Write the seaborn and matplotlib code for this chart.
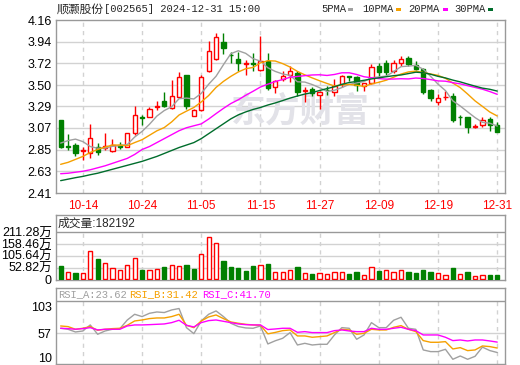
import numpy as np
import pandas as pd
import matplotlib
matplotlib.use("Agg")
import matplotlib.pyplot as plt
import matplotlib.transforms as mtransforms
import seaborn as sns
from matplotlib.patches import Rectangle

# ---------------- data ----------------
dates = (["10-%02d" % d for d in [9, 10, 11, 14, 15, 16, 17, 18, 21, 22, 23, 24, 25, 28, 29, 30, 31]] +
         ["11-%02d" % d for d in [1, 4, 5, 6, 7, 8, 11, 12, 13, 14, 15, 18, 19, 20, 21, 22, 25, 26, 27, 28, 29]] +
         ["12-%02d" % d for d in [2, 3, 4, 5, 6, 9, 10, 11, 12, 13, 16, 17, 18, 19, 20, 23, 24, 25, 26, 27, 30, 31]])

opens = [3.15, 2.89, 2.90, 2.83, 2.81, 2.88, 2.87, 2.83, 2.895, 2.88,
         3.015, 3.175, 3.18, 3.285, 3.34, 3.265, 3.385, 3.60, 3.19, 3.245,
         3.645, 3.77, 3.94, 3.81, 3.765, 3.71, 3.72, 3.655, 3.75, 3.48,
         3.568, 3.60, 3.625, 3.445, 3.46, 3.40, 3.455, 3.435, 3.51, 3.59,
         3.58, 3.49, 3.52, 3.695, 3.73, 3.64, 3.73, 3.78, 3.705, 3.665,
         3.45, 3.335, 3.38, 3.39, 3.18, 3.175, 3.08, 3.10, 3.16, 3.10]
highs = [3.15, 3.01, 2.915, 2.88, 3.11, 2.915, 3.02, 2.955, 2.93, 3.02,
         3.29, 3.20, 3.28, 3.345, 3.43, 3.55, 3.63, 3.60, 3.26, 3.60,
         3.95, 4.025, 4.03, 3.84, 3.84, 3.76, 3.825, 4.0, 3.825, 3.555,
         3.64, 3.695, 3.64, 3.48, 3.485, 3.44, 3.49, 3.56, 3.60, 3.595,
         3.595, 3.525, 3.715, 3.72, 3.76, 3.755, 3.795, 3.795, 3.745, 3.67,
         3.46, 3.41, 3.445, 3.42, 3.20, 3.18, 3.11, 3.18, 3.18, 3.125]
lows = [2.87, 2.85, 2.78, 2.74, 2.76, 2.79, 2.85, 2.82, 2.855, 2.875,
        3.0, 3.10, 3.175, 3.245, 3.285, 3.26, 3.37, 3.255, 3.185, 3.235,
        3.63, 3.76, 3.82, 3.72, 3.64, 3.605, 3.64, 3.645, 3.45, 3.42,
        3.54, 3.53, 3.39, 3.335, 3.39, 3.26, 3.40, 3.395, 3.48, 3.54,
        3.445, 3.445, 3.515, 3.57, 3.605, 3.62, 3.695, 3.695, 3.655, 3.41,
        3.345, 3.30, 3.35, 3.125, 3.10, 3.02, 3.065, 3.075, 3.04, 3.03]
closes = [2.88, 2.88, 2.81, 2.84, 2.965, 2.82, 2.885, 2.90, 2.88, 3.015,
          3.20, 3.17, 3.26, 3.295, 3.295, 3.39, 3.58, 3.29, 3.25, 3.58,
          3.85, 3.985, 3.875, 3.805, 3.73, 3.72, 3.715, 3.75, 3.47, 3.545,
          3.59, 3.64, 3.43, 3.455, 3.42, 3.43, 3.45, 3.49, 3.59, 3.585,
          3.505, 3.52, 3.68, 3.63, 3.63, 3.73, 3.77, 3.71, 3.665, 3.435,
          3.37, 3.375, 3.385, 3.145, 3.175, 3.075, 3.085, 3.145, 3.10, 3.03]

ma5 = [2.915, 2.94, 2.955, 2.93, 2.88, 2.863, 2.864, 2.882, 2.89, 2.90,
       2.976, 3.033, 3.105, 3.188, 3.244, 3.282, 3.364, 3.37, 3.361, 3.418,
       3.51, 3.591, 3.708, 3.819, 3.849, 3.823, 3.769, 3.744, 3.677, 3.64,
       3.614, 3.599, 3.535, 3.532, 3.507, 3.475, 3.437, 3.449, 3.476, 3.509,
       3.524, 3.538, 3.576, 3.584, 3.593, 3.638, 3.688, 3.694, 3.701, 3.662,
       3.59, 3.511, 3.446, 3.342, 3.29, 3.231, 3.173, 3.125, 3.116, 3.087]
ma10 = [2.70, 2.72, 2.75, 2.78, 2.82, 2.85, 2.875, 2.895, 2.895, 2.888,
        2.92, 2.949, 2.994, 3.039, 3.072, 3.129, 3.199, 3.238, 3.275, 3.331,
        3.396, 3.478, 3.539, 3.59, 3.634, 3.667, 3.68, 3.726, 3.748, 3.745,
        3.719, 3.684, 3.64, 3.605, 3.574, 3.545, 3.518, 3.492, 3.504, 3.508,
        3.50, 3.488, 3.513, 3.53, 3.551, 3.581, 3.613, 3.635, 3.643, 3.628,
        3.614, 3.60, 3.57, 3.522, 3.476, 3.411, 3.342, 3.286, 3.229, 3.189]
ma20 = [2.605, 2.61, 2.62, 2.63, 2.645, 2.665, 2.685, 2.71, 2.735, 2.76,
        2.80, 2.85, 2.88, 2.92, 2.96, 3.00, 3.04, 3.07, 3.09, 3.109,
        3.158, 3.213, 3.266, 3.315, 3.353, 3.398, 3.439, 3.482, 3.511, 3.538,
        3.557, 3.581, 3.589, 3.597, 3.604, 3.606, 3.599, 3.609, 3.626, 3.626,
        3.609, 3.586, 3.576, 3.567, 3.562, 3.563, 3.566, 3.564, 3.573, 3.568,
        3.557, 3.544, 3.541, 3.526, 3.514, 3.496, 3.478, 3.46, 3.436, 3.408]
ma30 = [2.535, 2.55, 2.565, 2.578, 2.595, 2.61, 2.63, 2.65, 2.67, 2.69,
        2.71, 2.73, 2.755, 2.78, 2.81, 2.84, 2.87, 2.895, 2.92, 2.96,
        3.01, 3.06, 3.11, 3.16, 3.20, 3.23, 3.255, 3.275, 3.30, 3.321,
        3.345, 3.37, 3.391, 3.411, 3.426, 3.447, 3.466, 3.485, 3.509, 3.528,
        3.538, 3.55, 3.564, 3.575, 3.586, 3.597, 3.604, 3.618, 3.632, 3.627,
        3.611, 3.59, 3.574, 3.552, 3.534, 3.512, 3.491, 3.471, 3.459, 3.441]

volume_wan = [59.8, 33, 30, 28, 127, 91, 73, 49, 42, 64,
              96, 42, 42, 46, 55, 64, 60, 64, 46, 114,
              188.5, 163, 82, 55, 51, 37, 60, 64, 69, 33,
              33, 42, 55, 28, 24, 28, 24, 33, 33, 24,
              33, 18, 55, 37, 42, 33, 42, 33, 28, 42,
              33, 28, 18, 51, 24, 33, 13, 18, 19, 18.2]
volume_up = [0, 1, 0, 1, 1, 0, 1, 1, 1, 1,
             1, 0, 1, 1, 0, 1, 1, 0, 0, 1,
             1, 1, 0, 0, 0, 0, 0, 1, 0, 1,
             1, 1, 0, 1, 0, 1, 1, 1, 1, 0,
             0, 1, 1, 0, 1, 1, 1, 0, 0, 0,
             0, 1, 1, 0, 1, 0, 1, 1, 0, 0]

rsi_a = [65.7, 63.9, 59.3, 61, 71.5, 55.3, 61, 64, 65, 80,
         90, 86, 91.7, 94, 93, 97.5, 100, 66.8, 56.4, 78.4,
         90, 95.8, 86, 74.4, 68.7, 66.3, 65.7, 69.7, 38.5, 44,
         48.3, 58.2, 36.7, 39.6, 36.7, 37.9, 37.9, 54.1, 66.8, 65.7,
         46.6, 54.1, 75.5, 66.8, 66.8, 79.6, 84.8, 65.7, 63.9, 28.1,
         25.2, 25.2, 29.2, 11.9, 17.6, 11.9, 17, 33, 27, 23.62]
rsi_b = [69.7, 68.6, 64, 65.7, 68.6, 62.2, 64, 65.1, 65.7, 70.9,
         78.4, 80.1, 82.5, 83.6, 83.6, 86, 90, 70.9, 66.8, 78.4,
         85.4, 88.8, 82.5, 76.7, 74.4, 72.6, 71.5, 70.9, 56, 58.5,
         61.6, 62.8, 52.4, 52.4, 50.1, 51.2, 52.4, 58.2, 63.9, 62.8,
         55.3, 57, 63.9, 62.8, 62.8, 67.4, 70.3, 63.9, 59.9, 44.3,
         41.4, 41.4, 42.5, 29.8, 32.1, 26.9, 28.1, 35, 33.9, 31.42]
rsi_c = [65.7, 65.1, 64, 65.1, 66.8, 62.8, 64, 64, 64, 69.7,
         71.5, 71.5, 72, 72.6, 73.2, 75.5, 79.6, 70.9, 68, 75.5,
         79, 80.1, 77.8, 75.5, 73.2, 72, 71.5, 71.5, 63.5, 64.5,
         65.7, 65.7, 58.7, 59.9, 58.2, 58.2, 58.2, 61.6, 62.8, 61,
         59.9, 59.9, 65.7, 63.9, 63.9, 65.7, 67.4, 63.9, 61.6, 54.1,
         54.1, 54.1, 50.1, 44.3, 45.4, 43.7, 45.4, 45.4, 43.7, 41.7]

price_ticks = [2.41, 2.63, 2.85, 3.07, 3.29, 3.50, 3.72, 3.94, 4.16]
price_tick_labels = ["2.41", "2.63", "2.85", "3.07", "3.29", "3.50", "3.72", "3.94", "4.16"]
date_tick_labels = ["10-14", "10-24", "11-05", "11-15", "11-27", "12-09", "12-19", "12-31"]
vol_ticks = [0, 52.82, 105.64, 158.46, 211.28]
vol_tick_labels = ["0", "52.82万", "105.64万", "158.46万", "211.28万"]
rsi_ticks = [10, 57, 103]
rsi_tick_labels = ["10", "57", "103"]

title_name = "顺灏股份"
title_rest = "[002565] 2024-12-31 15:00"
ma_names = ["5PMA", "10PMA", "20PMA", "30PMA"]
vol_title = "成交量:182192"
rsi_names = ["RSI_A", "RSI_B", "RSI_C"]
watermark = "东方财富"

# ---------------- style ----------------
RED = "#ff0000"
GREEN = "#008000"
MA_COLORS = ["#a0a0a0", "#f5a000", "#ff00ff", "#006d2c"]
RSI_COLORS = ["#a0a0a0", "#f5a000", "#ff00ff"]
BORDER = "#999999"
GRID = "#d2d2d2"

sns.set_theme(style="white")
plt.rcParams["font.family"] = ["Liberation Sans", "Noto Sans CJK SC"]
MONO = ["Liberation Mono", "Noto Sans CJK SC"]

W, H = 520, 365
fig = plt.figure(figsize=(W / 100, H / 100), dpi=100)
fig.patch.set_facecolor("white")


def rect(x0, y0, x1, y1):
    return [x0 / W, 1 - y1 / H, (x1 - x0) / W, (y1 - y0) / H]


ax = fig.add_axes(rect(56, 20, 505, 193))
axv = fig.add_axes(rect(56, 215, 505, 280))
axr = fig.add_axes(rect(56, 288, 505, 364))

n = len(closes)
x = np.arange(n)
XLIM = (-0.63, n + 0.05)
date_pos = [dates.index(d) for d in date_tick_labels]

for a in (ax, axv, axr):
    a.set_xlim(*XLIM)
    a.set_facecolor("white")
    for s in a.spines.values():
        s.set_color(BORDER)
        s.set_linewidth(1.0)
    a.tick_params(length=0, labelsize=9, colors="#000000", pad=3)

# ---------------- main price panel ----------------
ax.set_ylim(price_ticks[0], price_ticks[-1])
for t in price_ticks[1:-1]:
    ax.axhline(t, color=GRID, lw=1, zorder=0)
for p in date_pos:
    ax.axvline(p, color=GRID, lw=1, ls=(0, (3, 3)), zorder=0)

ax.text((300 - 56) / 449, (193 - 111) / 173, watermark, fontsize=25, fontweight="bold",
        color="#e2e2e8", ha="center", va="center", family=["Noto Sans CJK SC"], zorder=1,
        transform=ax.transAxes)

bw = 0.58
for i in range(n):
    up = closes[i] >= opens[i]
    col = RED if up else GREEN
    ax.vlines(i, lows[i], highs[i], color=col, lw=1, zorder=3)
    lo = min(opens[i], closes[i])
    hgt = max(abs(closes[i] - opens[i]), 0.004)
    ax.add_patch(Rectangle((i - bw / 2, lo), bw, hgt, facecolor="white" if up else col,
                           edgecolor=col, lw=1, zorder=4))

for vals, c in zip([ma5, ma10, ma20, ma30], MA_COLORS):
    sns.lineplot(x=x, y=vals, ax=ax, color=c, linewidth=1.0, legend=False, zorder=5)

ax.set_yticks(price_ticks)
ax.set_yticklabels(price_tick_labels)
ax.set_xticks(date_pos)
ax.set_xticklabels(date_tick_labels, color=RED, fontsize=8.5)
ax.tick_params(axis="x", pad=5)
ax.set_xlabel("")
ax.set_ylabel("")

# ---------------- volume panel ----------------
VTOP = vol_ticks[-1]
axv.set_ylim(-3.1, 289)
for t in vol_ticks[1:-1]:
    axv.axhline(t, color=GRID, lw=1, zorder=0)
axv.axhline(VTOP, color=BORDER, lw=1, zorder=1)
axv.vlines(date_pos, 0, VTOP, color=GRID, lw=1, linestyles=(0, (3, 3)), zorder=0)
vcols = [RED if u else GREEN for u in volume_up]
axv.bar(x, volume_wan, width=bw, color=["white" if u else GREEN for u in volume_up],
        edgecolor=vcols, linewidth=1, zorder=3)
axv.set_yticks(vol_ticks)
axv.set_yticklabels(vol_tick_labels)
axv.set_xticks([])

# ---------------- RSI panel ----------------
RTOP = 113
axr.set_ylim(3.7, 135.6)
axr.axhline(57, color=GRID, lw=1, zorder=0)
axr.axhline(RTOP, color=BORDER, lw=1, zorder=1)
axr.vlines(date_pos, 3.7, RTOP, color=GRID, lw=1, linestyles=(0, (3, 3)), zorder=0)
for vals, c in zip([rsi_a, rsi_b, rsi_c], RSI_COLORS):
    sns.lineplot(x=x, y=vals, ax=axr, color=c, linewidth=1.0, legend=False, zorder=4)
axr.set_yticks(rsi_ticks)
axr.set_yticklabels(rsi_tick_labels)
axr.set_xticks([])
axr.set_xlabel("")
axr.set_ylabel("")
shift_up = mtransforms.ScaledTranslation(0, 2.5 / 100, fig.dpi_scale_trans)
for lbl in axr.get_yticklabels():
    if lbl.get_text() == rsi_tick_labels[0]:
        lbl.set_transform(lbl.get_transform() + shift_up)

# ---------------- header texts ----------------
def ftext(px, py, s, **kw):
    return fig.text(px / W, 1 - py / H, s, va="center", ha="left", **kw)


ftext(57, 9, title_name, fontsize=8.5, family=["Noto Sans CJK SC"])
ftext(104, 9, title_rest, fontsize=7.6, family=MONO)

leg_x = [321, 362, 408, 454]
sq_x = [348, 396, 443, 488]
for name, lx, sx, c in zip(ma_names, leg_x, sq_x, MA_COLORS):
    ftext(lx, 9, name, fontsize=7.6, family=MONO)
    fig.patches.append(Rectangle((sx / W, 1 - 10.5 / H), 5 / W, 3 / H, transform=fig.transFigure,
                                 facecolor=c, edgecolor="none"))

ftext(58, 224, vol_title, fontsize=8.5)

rsi_last = [rsi_a[-1], rsi_b[-1], rsi_c[-1]]
for name, val, px, c in zip(rsi_names, rsi_last, [58, 129, 202], RSI_COLORS):
    ftext(px, 294.5, "%s:%.2f" % (name, val), fontsize=7.6, family=MONO, color=c)

fig.savefig("out.png", dpi=100, facecolor="white")
